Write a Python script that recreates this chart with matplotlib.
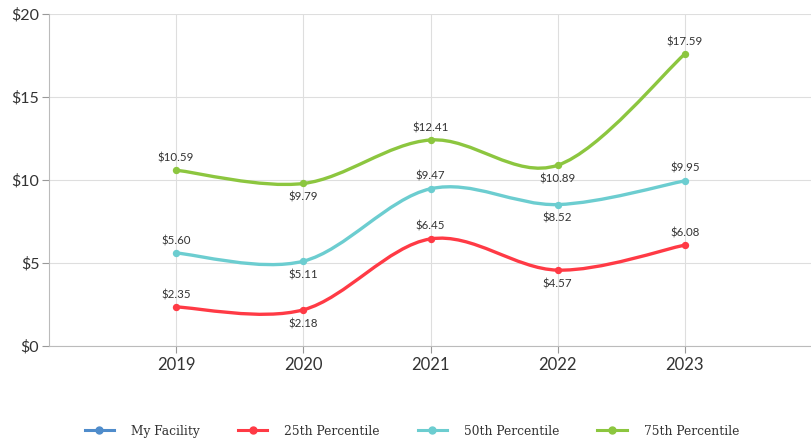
import matplotlib
matplotlib.use('Agg')
import matplotlib.pyplot as plt
from matplotlib.path import Path
from matplotlib.patches import PathPatch
from matplotlib.lines import Line2D
import numpy as np

years = [2019, 2020, 2021, 2022, 2023]
p25 = [2.35, 2.18, 6.45, 4.57, 6.08]
p50 = [5.60, 5.11, 9.47, 8.52, 9.95]
p75 = [10.59, 9.79, 12.41, 10.89, 17.59]
yticks = [0, 5, 10, 15, 20]

# label above (+1) or below (-1) each point
pos25 = [1, -1, 1, -1, 1]
pos50 = [1, -1, 1, -1, 1]
pos75 = [1, -1, 1, -1, 1]

BLUE = '#4f8ccb'
RED = '#ff3a45'
TEAL = '#6ccdd0'
GREEN = '#8cc63f'
GRID = '#dedede'
INK = '#333333'

plt.rcParams['font.family'] = ['Lato', 'DejaVu Sans']


def spline_path(xs, ys, t=1 / 6):
    # cardinal (Catmull-Rom) spline through the points as cubic Bezier segments
    xs = np.asarray(xs, float)
    ys = np.asarray(ys, float)
    n = len(xs)
    verts = [(xs[0], ys[0])]
    codes = [Path.MOVETO]
    for i in range(n - 1):
        i0 = max(i - 1, 0)
        i3 = min(i + 2, n - 1)
        c1 = (xs[i] + (xs[i + 1] - xs[i0]) * t, ys[i] + (ys[i + 1] - ys[i0]) * t)
        c2 = (xs[i + 1] - (xs[i3] - xs[i]) * t, ys[i + 1] - (ys[i3] - ys[i]) * t)
        verts += [c1, c2, (xs[i + 1], ys[i + 1])]
        codes += [Path.CURVE4] * 3
    return Path(verts, codes)


fig = plt.figure(figsize=(8.12, 4.40), dpi=100)
ax = fig.add_axes([49 / 812, 1 - 346 / 440, 1 - 49 / 812, (346 - 14) / 440])

for vals, col, pos in ((p75, GREEN, pos75), (p50, TEAL, pos50), (p25, RED, pos25)):
    ax.add_patch(PathPatch(spline_path(years, vals), fill=False, edgecolor=col,
                           linewidth=2.4, capstyle='round', zorder=3))
    ax.scatter(years, vals, s=28, color=col, zorder=4, linewidths=0)
    for x, y, p in zip(years, vals, pos):
        ax.annotate(f'${y:.2f}', (x, y), textcoords='offset points',
                    xytext=(0, 5 if p > 0 else -6), ha='center',
                    va='bottom' if p > 0 else 'top', fontsize=8.3, color=INK)

ax.set_xlim(2018, 2024)
ax.set_ylim(0, 20)
ax.set_xticks(years)
ax.set_xticklabels([str(y) for y in years], fontsize=12, color=INK)
ax.set_yticks(yticks)
ax.set_yticklabels([f'${v}' for v in yticks], fontsize=11.5, color=INK)
ax.grid(True, color=GRID, linewidth=0.8, zorder=0)
ax.set_axisbelow(True)
for side in ('top', 'right'):
    ax.spines[side].set_visible(False)
for side in ('left', 'bottom'):
    ax.spines[side].set_color('#bbbbbb')
ax.tick_params(axis='both', color='#999999', length=5, width=0.8, pad=3)
ax.tick_params(axis='y', pad=2)

handles = [Line2D([], [], color=c, marker='o', markersize=5, linewidth=2.2)
           for c in (BLUE, RED, TEAL, GREEN)]
labels = ['My Facility', '25th Percentile', '50th Percentile', '75th Percentile']
fig.legend(handles, labels, loc='center', bbox_to_anchor=(412 / 812, 1 - 431 / 440), ncol=4,
           frameon=False, handlelength=2.4, handletextpad=1.4,
           columnspacing=3.1, labelcolor=INK,
           prop={'family': ['DejaVu Serif'], 'size': 8.8})

fig.savefig('out.png', dpi=100)
